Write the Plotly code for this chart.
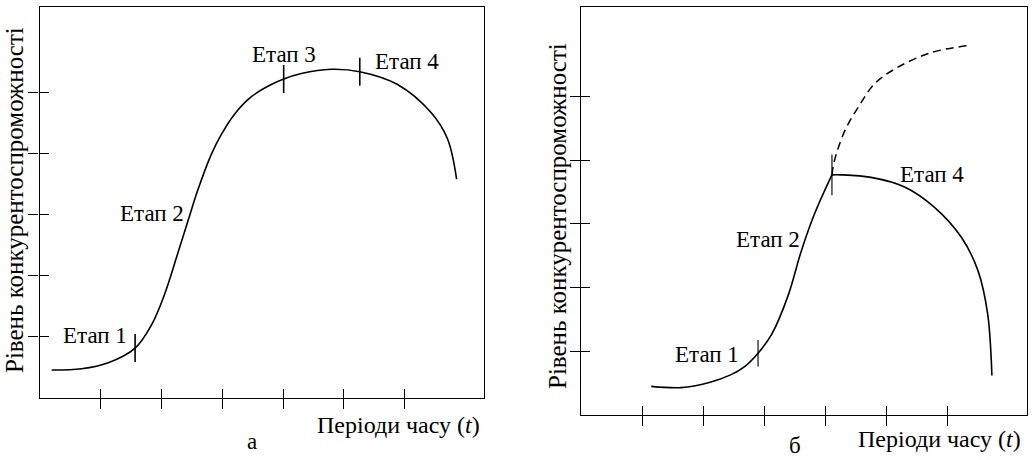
import plotly.graph_objects as go

W, H = 1035, 460
FONT = "Times New Roman, Liberation Serif, DejaVu Serif, serif"

# panel а
a_x = [0.20, 0.69, 1.13, 1.57, 1.84, 2.05, 2.27, 2.44, 2.60, 2.82, 2.98, 3.20, 3.48, 3.75, 4.01, 4.30,
       4.79, 5.26, 5.88, 6.43, 6.70, 6.85]
a_y = [0.45, 0.47, 0.57, 0.81, 1.19, 1.68, 2.36, 2.90, 3.40, 3.98, 4.30, 4.64, 4.93, 5.10, 5.22, 5.31,
       5.38, 5.34, 5.13, 4.67, 4.24, 3.58]
a_stage_x = [1.57, 4.01, 5.26]
a_stage_y = [0.81, 5.22, 5.34]

# panel б
b_x = [1.15, 1.64, 2.10, 2.45, 2.68, 2.90, 3.12, 3.39, 3.61, 3.83, 4.11]
b_y = [0.45, 0.43, 0.51, 0.63, 0.76, 0.97, 1.26, 1.87, 2.58, 3.17, 3.77]
b_fall_x = [4.11, 4.26, 4.75, 5.30, 5.79, 6.23, 6.50, 6.66, 6.73]
b_fall_y = [3.77, 3.77, 3.73, 3.58, 3.26, 2.79, 2.27, 1.59, 0.62]
b_dash_x = [4.11, 4.15, 4.32, 4.54, 4.81, 5.19, 5.74, 6.34]
b_dash_y = [3.77, 3.99, 4.46, 4.83, 5.20, 5.46, 5.69, 5.80]
b_stage_x = [2.90, 4.11]
b_stage_y = [0.97, 3.77]

x_ticks = [1, 2, 3, 4, 5, 6]
y_ticks = [1, 2, 3, 4, 5]
y_title = "Рівень конкурентоспроможності"
x_title = "Періоди часу (<i>t</i>)"


def px(v):
    return v / W


def py(v):
    return 1 - v / H


fig = go.Figure()
line = dict(color="black", width=1.6)
tick_marker = dict(symbol="line-ns", size=20, line=dict(color="black", width=1.6))
fig.add_trace(go.Scatter(x=a_x, y=a_y, mode="lines", line=line, line_shape="spline", xaxis="x", yaxis="y"))
fig.add_trace(go.Scatter(x=a_stage_x, y=a_stage_y, mode="markers", xaxis="x", yaxis="y", marker=tick_marker))
fig.add_trace(go.Scatter(x=b_x, y=b_y, mode="lines", line=line, line_shape="spline", xaxis="x2", yaxis="y2"))
fig.add_trace(go.Scatter(x=b_fall_x, y=b_fall_y, mode="lines", line=line, line_shape="spline", xaxis="x2", yaxis="y2"))
fig.add_trace(go.Scatter(x=b_dash_x, y=b_dash_y, mode="lines", line=dict(color="black", width=1.5, dash="8px,5px"),
                         line_shape="spline", xaxis="x2", yaxis="y2"))
fig.add_trace(go.Scatter(x=b_stage_x, y=b_stage_y, mode="markers", xaxis="x2", yaxis="y2",
                         marker=dict(tick_marker, size=[19, 29])))
# dummy traces so the inside-tick overlay axes get drawn
fig.add_trace(go.Scatter(x=[None], y=[None], xaxis="x3", yaxis="y3"))
fig.add_trace(go.Scatter(x=[None], y=[None], xaxis="x4", yaxis="y4"))

xr, yr = [0, 7.3], [0, 6.4]
base = dict(showgrid=False, zeroline=False, showticklabels=False, tickcolor="black", tickwidth=1.4)
outer = dict(base, showline=True, mirror=True, linecolor="black", linewidth=1.4, ticks="outside", ticklen=10)
inner = dict(base, showline=False, ticks="inside", ticklen=9)

dom_ax = [px(39.5), px(484)]
dom_ay = [py(397.5), py(7)]
dom_bx = [px(581), px(1026.7)]
dom_by = [py(415), py(7.3)]

fig.update_layout(
    width=W, height=H,
    margin=dict(l=0, r=0, t=0, b=0),
    paper_bgcolor="white", plot_bgcolor="white",
    showlegend=False,
    xaxis=dict(outer, domain=dom_ax, range=xr, tickvals=x_ticks, anchor="y"),
    yaxis=dict(outer, domain=dom_ay, range=yr, tickvals=y_ticks, anchor="x"),
    xaxis2=dict(outer, domain=dom_bx, range=xr, tickvals=x_ticks, anchor="y2"),
    yaxis2=dict(outer, domain=dom_by, range=yr, tickvals=y_ticks, anchor="x2"),
    xaxis3=dict(inner, overlaying="x", range=xr, tickvals=x_ticks, anchor="y"),
    yaxis3=dict(inner, overlaying="y", range=yr, tickvals=y_ticks, anchor="x"),
    xaxis4=dict(inner, overlaying="x2", range=xr, tickvals=x_ticks, anchor="y2"),
    yaxis4=dict(inner, overlaying="y2", range=yr, tickvals=y_ticks, anchor="x2"),
    font=dict(family=FONT, size=23, color="black"),
)

stage_font = dict(family=FONT, size=23, color="black")
for text, x, y, xr_, yr_ in [
    ("Етап 1", 0.91, 1.02, "x", "y"),
    ("Етап 2", 1.85, 3.02, "x", "y"),
    ("Етап 3", 4.01, 5.62, "x", "y"),
    ("Етап 4", 6.03, 5.50, "x", "y"),
    ("Етап 1", 2.07, 0.95, "x2", "y2"),
    ("Етап 2", 3.07, 2.76, "x2", "y2"),
    ("Етап 4", 5.75, 3.77, "x2", "y2"),
]:
    fig.add_annotation(text=text, x=x, y=y, xref=xr_, yref=yr_, showarrow=False,
                       xanchor="center", yanchor="middle", font=stage_font)

for x, y in [(15, 200), (558, 216)]:
    fig.add_annotation(text=y_title, x=px(x), y=py(y), xref="paper", yref="paper", showarrow=False,
                       textangle=-90, xanchor="center", yanchor="middle", font=dict(stage_font, size=25))
for x, y in [(482, 425), (1023, 439)]:
    fig.add_annotation(text=x_title, x=px(x), y=py(y), xref="paper", yref="paper", showarrow=False,
                       xanchor="right", yanchor="middle", font=dict(stage_font, size=24))
fig.add_annotation(text="а", x=px(252), y=py(441), xref="paper", yref="paper", showarrow=False,
                   xanchor="center", yanchor="middle", font=stage_font)
fig.add_annotation(text="б", x=px(795), y=0, xref="paper", yref="paper", showarrow=False,
                   xanchor="center", yanchor="bottom", font=stage_font)

# the page's default body margin would shift the figure by 8px
fig.write_html("out.html", config={"displayModeBar": False},
               post_script="document.body.style.margin='0px';")
